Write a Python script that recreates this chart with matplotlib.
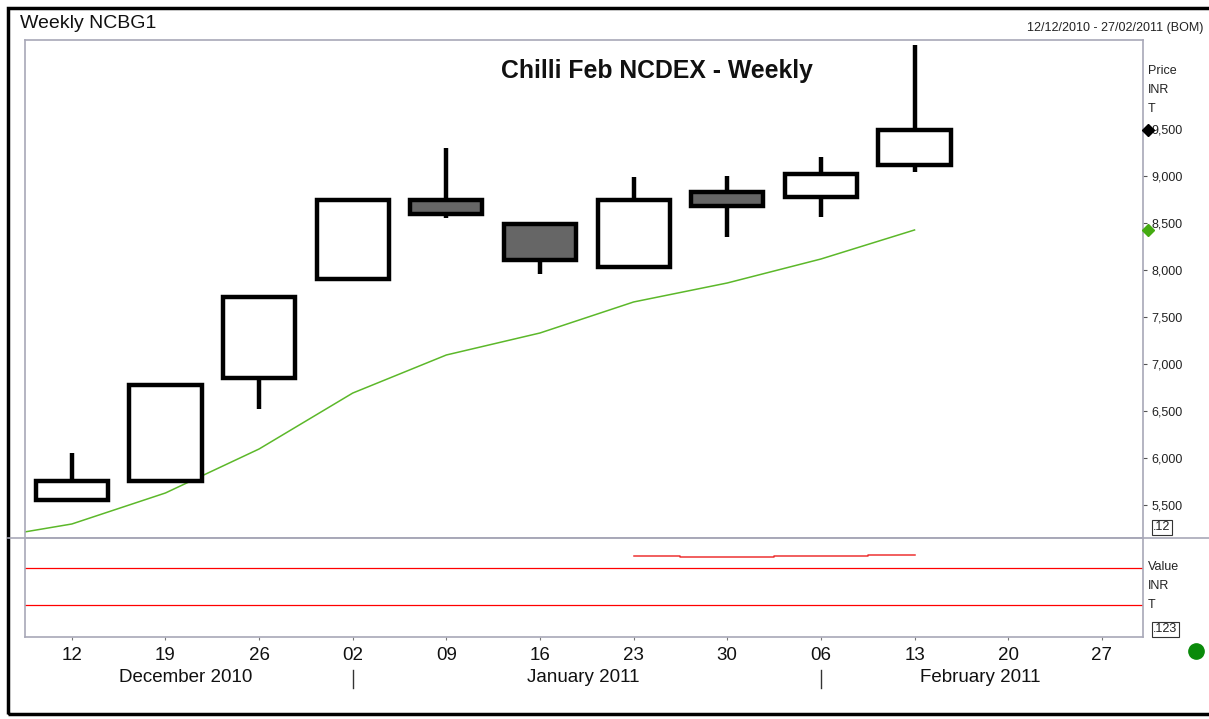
import numpy as np
import matplotlib
matplotlib.use("Agg")
import matplotlib.pyplot as plt
from matplotlib.lines import Line2D
from matplotlib.patches import Rectangle

plt.rcParams['font.family'] = ['Liberation Sans', 'DejaVu Sans']

# weekly candles (12 Dec 2010 .. 13 Feb 2011)
week_labels = ['12', '19', '26', '02', '09', '16', '23', '30', '06', '13', '20', '27']
opens = [5553, 5755, 6851, 7904, 8745, 8489, 8032, 8830, 8777, 9117]
closes = [5755, 6777, 7713, 8745, 8596, 8106, 8745, 8681, 9021, 9489]
highs = [6053, 6777, 7713, 8745, 9298, 8489, 8989, 9000, 9202, 10394]
lows = [5553, 5755, 6521, 7904, 8553, 7957, 8032, 8351, 8564, 9043]

# moving average (starts one week before the first candle, clipped)
ma_x = [-1, 0, 1, 2, 3, 4, 5, 6, 7, 8, 9]
ma_vals = [5130, 5298, 5628, 6096, 6691, 7096, 7330, 7660, 7862, 8117, 8426]

# lower panel
ind_x = [6, 7, 8, 9]
ind_vals = [82.1, 81.1, 82.1, 83.1]
ind_levels = [70, 32.3]

price_ticks = [5500, 6000, 6500, 7000, 7500, 8000, 8500, 9000, 9500]
months = ['December 2010', 'January 2011', 'February 2011']
month_pos = [1.22, 5.46, 9.7]
month_breaks = [3, 8]

W, H = 1209, 719
fig = plt.figure(figsize=(W / 100, H / 100), dpi=100)
fig.patch.set_facecolor('white')

def fx(px):
    return px / W

def fy(py):
    return 1 - py / H

axis_col = '#a8a8b8'
txt_col = '#111111'

ax = fig.add_axes([fx(25), fy(538), fx(1143) - fx(25), fy(40) - fy(538)])
ax2 = fig.add_axes([fx(25), fy(637), fx(1143) - fx(25), fy(538) - fy(637)])

xlim = (-0.5, 11.44)

# candles
bw = 0.77
for i in range(len(opens)):
    o, c, h, l = opens[i], closes[i], highs[i], lows[i]
    top, bot = max(o, c), min(o, c)
    fc = 'white' if c >= o else '#666666'
    if h > top:
        ax.vlines(i, top, h, color='black', lw=3.2, zorder=2)
    if l < bot:
        ax.vlines(i, l, bot, color='black', lw=3.2, zorder=2)
    ax.add_patch(Rectangle((i - bw / 2, bot), bw, top - bot, facecolor=fc,
                           edgecolor='black', lw=3.2, zorder=3, joinstyle='miter'))

ax.plot(ma_x, ma_vals, color='#5cb82a', lw=1.1, zorder=1)

ax.set_xlim(*xlim)
ax.set_ylim(5149, 10447)
ax.set_xticks([])
ax.yaxis.tick_right()
ax.set_yticks(price_ticks)
ax.set_yticklabels([f'{v:,}' for v in price_ticks], fontsize=9, color='#222222')
ax.tick_params(axis='y', direction='out', length=3, width=0.8, color='#555555', pad=3)
for s in ax.spines.values():
    s.set_color(axis_col)
    s.set_linewidth(1.2)

# right-axis markers
mx = 1 + 5 / 1118
ax.plot([mx], [closes[-1]], marker='D', color='black', ms=6, transform=ax.get_yaxis_transform(),
        clip_on=False, zorder=5)
ax.plot([mx], [ma_vals[-1]], marker='D', color='#44aa11', ms=6, transform=ax.get_yaxis_transform(),
        clip_on=False, zorder=5)

ax.text((657 - 25) / 1118, 0.937, 'Chilli Feb NCDEX - Weekly', transform=ax.transAxes,
        ha='center', va='center', fontsize=17.8, fontweight='bold', color=txt_col)

# lower panel
ax2.step(ind_x, ind_vals, where='mid', color='#ee3333', lw=1.1)
for lv in ind_levels:
    ax2.axhline(lv, color='#ff0000', lw=0.9)
ax2.set_xlim(*xlim)
ax2.set_ylim(0, 100)
ax2.set_yticks([])
ax2.set_xticks(range(len(week_labels)))
ax2.set_xticklabels(week_labels, fontsize=13.5, color=txt_col)
ax2.tick_params(axis='x', direction='out', length=2, width=0.8, color='#777777', pad=5)
for s in ax2.spines.values():
    s.set_color(axis_col)
    s.set_linewidth(1.2)

# month labels and separators
trans = ax2.get_xaxis_transform()
for name, p in zip(months, month_pos):
    ax2.annotate(name, xy=(p, 0), xycoords=trans, xytext=(0, -29.5), textcoords='offset points',
                 ha='center', va='center', fontsize=13.5, color=txt_col, annotation_clip=False)
for b in month_breaks:
    ax2.add_line(Line2D([b, b], [-33 / 99, -51 / 99], transform=trans, color='#333333',
                        lw=1, clip_on=False))

# separator line across the full width
fig.add_artist(Line2D([fx(8), 1], [fy(538), fy(538)], color=axis_col, lw=1.2))

# header texts
fig.text(fx(20), fy(23), 'Weekly NCBG1', fontsize=14, ha='left', va='center', color=txt_col)
fig.text(fx(1203), fy(28), '12/12/2010 - 27/02/2011 (BOM)', fontsize=9, ha='right', va='center',
         color='#222222')

# axis captions
for lab, py in zip(['Price', 'INR', 'T'], [71, 90, 109]):
    fig.text(fx(1148), fy(py), lab, fontsize=9, ha='left', va='center', color='#222222')
for lab, py in zip(['Value', 'INR', 'T'], [567, 586, 605]):
    fig.text(fx(1148), fy(py), lab, fontsize=9, ha='left', va='center', color='#222222')
box = dict(boxstyle='square,pad=0.12', facecolor='white', edgecolor='#333333', lw=0.8)
fig.text(fx(1153), fy(527), '.12', fontsize=9, ha='left', va='center', color='#222222', bbox=box)
fig.text(fx(1153), fy(629), '.123', fontsize=9, ha='left', va='center', color='#222222', bbox=box)

# status dot
fig.add_artist(Line2D([fx(1196)], [fy(651)], marker='o', ms=11, color='#0a8a0a', lw=0))

# outer frame
fig.add_artist(Rectangle((fx(8), fy(714)), 1.2, fy(8) - fy(714), transform=fig.transFigure,
                         fill=False, edgecolor='black', lw=2.5))

fig.savefig('out.png', dpi=100)
